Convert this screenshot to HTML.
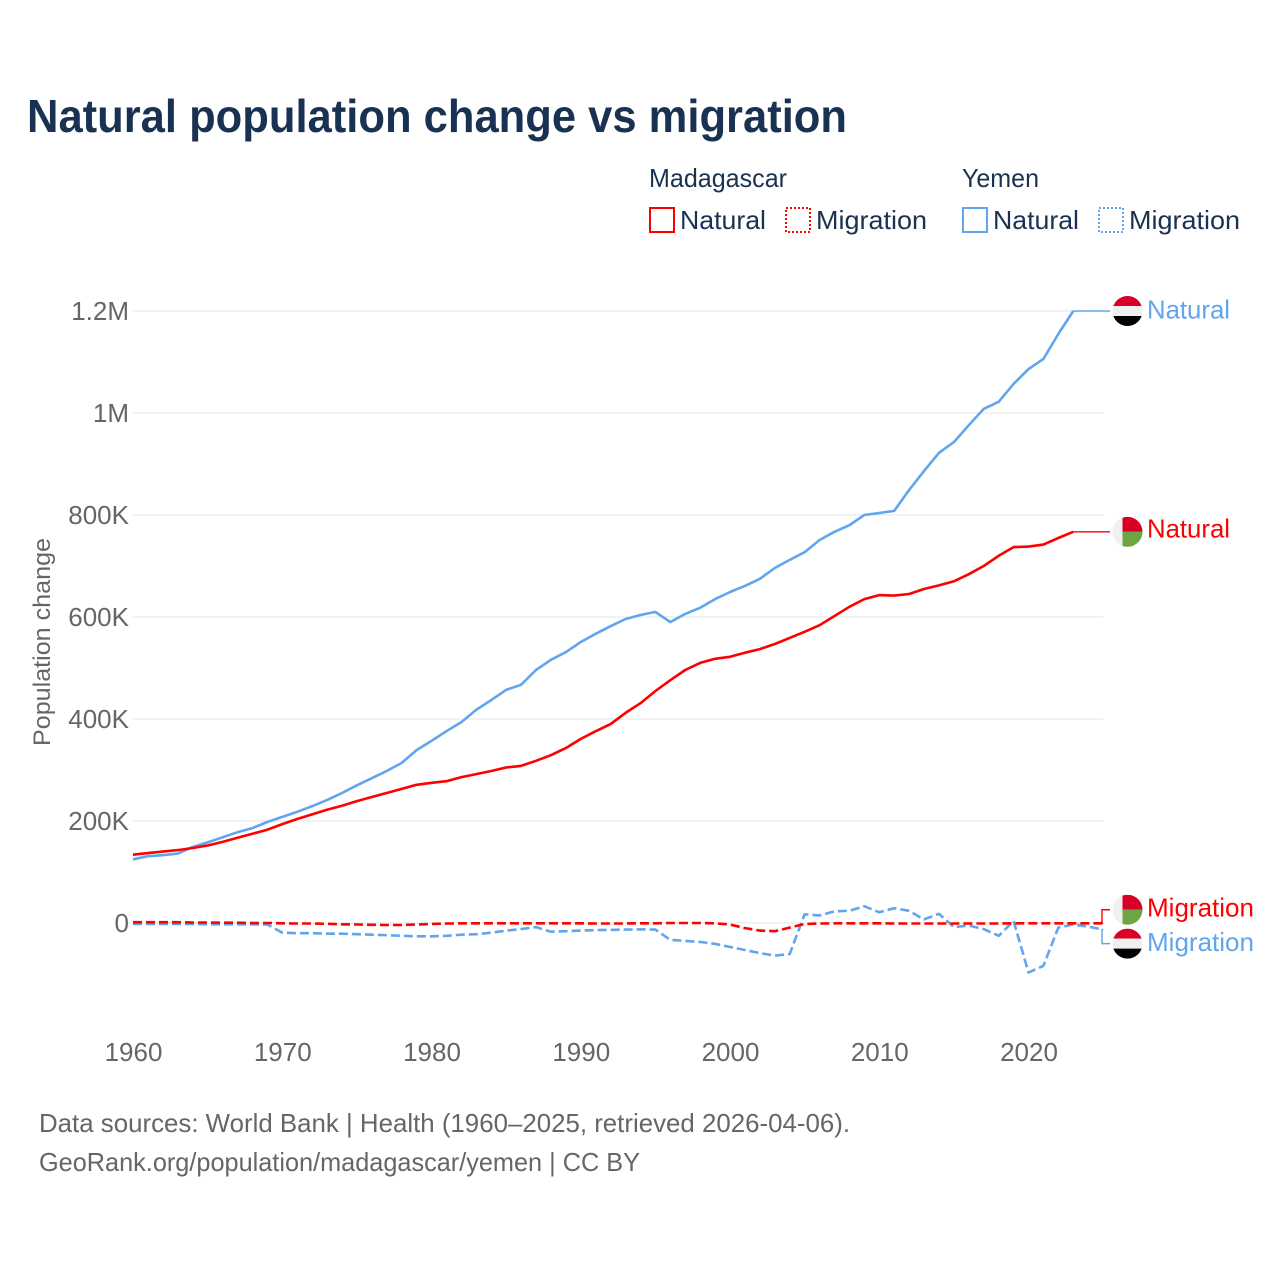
<!DOCTYPE html>
<html lang="en">
<head>
<meta charset="utf-8">
<title>Natural population change vs migration</title>
<style>
html,body{margin:0;padding:0;background:#fff;width:1280px;height:1280px;overflow:hidden}
svg{display:block;font-family:"Liberation Sans",sans-serif}
</style>
</head>
<body>
<svg id="chart" xmlns="http://www.w3.org/2000/svg" width="1280" height="1280" viewBox="0 0 1280 1280">
  <defs>
    <clipPath id="flag-clip"><circle cx="0" cy="0" r="15"></circle></clipPath>
    <g id="flag-yemen" clip-path="url(#flag-clip)">
      <rect x="-15" y="-15" width="30" height="10" fill="#d80027"></rect>
      <rect x="-15" y="-5" width="30" height="10" fill="#f0f0f0"></rect>
      <rect x="-15" y="5" width="30" height="10" fill="#000"></rect>
    </g>
    <g id="flag-madagascar" clip-path="url(#flag-clip)">
      <rect x="-15" y="-15" width="10" height="30" fill="#f0f0f0"></rect>
      <rect x="-5" y="-15" width="20" height="15" fill="#d80027"></rect>
      <rect x="-5" y="0" width="20" height="15" fill="#6da544"></rect>
    </g>
  </defs>

  <text x="27" y="132" font-size="46" font-weight="700" fill="#1a3252" textLength="820" lengthAdjust="spacingAndGlyphs">Natural population change vs migration</text>

  <g font-size="26" fill="#1a3252">
    <text x="649" y="187" textLength="138" lengthAdjust="spacingAndGlyphs">Madagascar</text>
    <rect x="650" y="208" width="24" height="24" fill="none" stroke="#ff0000" stroke-width="2"></rect>
    <text x="680" y="229" textLength="86" lengthAdjust="spacingAndGlyphs">Natural</text>
    <rect x="786" y="208" width="24" height="24" fill="none" stroke="#ff0000" stroke-width="2" stroke-dasharray="2 2"></rect>
    <text x="816" y="229" textLength="111" lengthAdjust="spacingAndGlyphs">Migration</text>
    <text x="962" y="187" textLength="77" lengthAdjust="spacingAndGlyphs">Yemen</text>
    <rect x="963" y="208" width="24" height="24" fill="none" stroke="#60a5ee" stroke-width="2"></rect>
    <text x="993" y="229" textLength="86" lengthAdjust="spacingAndGlyphs">Natural</text>
    <rect x="1099" y="208" width="24" height="24" fill="none" stroke="#60a5ee" stroke-width="2" stroke-dasharray="2 2"></rect>
    <text x="1129" y="229" textLength="111" lengthAdjust="spacingAndGlyphs">Migration</text>
  </g>

  <text transform="translate(50,746) rotate(-90)" font-size="24" fill="#666" textLength="208" lengthAdjust="spacingAndGlyphs">Population change</text>

  <g id="grid"></g>
  <g id="ticks" font-size="26" fill="#666"></g>
  <g id="series" fill="none"></g>
  <g id="ends" font-size="26"></g>

  <text x="39" y="1132" font-size="26" fill="#666" textLength="811" lengthAdjust="spacingAndGlyphs">Data sources: World Bank | Health (1960–2025, retrieved 2026-04-06).</text>
  <text x="39" y="1171" font-size="26" fill="#666" textLength="601" lengthAdjust="spacingAndGlyphs">GeoRank.org/population/madagascar/yemen | CC BY</text>
</svg>
<script>
const firstYear = 1960;
const xTickYears = [1960, 1970, 1980, 1990, 2000, 2010, 2020];
const yTickValues = [0, 200, 400, 600, 800, 1000, 1200];
const yTickLabels = ["0", "200K", "400K", "600K", "800K", "1M", "1.2M"];

// Values in thousands, one per year from 1960.
const yemenNatural = [125,131,133,136,149,158,168,178,186,198,208,218,229,241,255,270,284,298,314,339,357,376,394,418,437,457,467,496,516,531,551,567,582,596,604,610,590,606,618,635,649,661,675,696,712,727,751,767,780,800,804,808,849,886,922,943,976,1008,1022,1057,1086,1106,1155,1200];
const madagascarNatural = [134,137,140,143,147,152,159,167,175,183,194,204,213,222,230,239,247,255,263,271,275,278,286,292,298,305,308,318,329,343,361,376,390,412,431,455,476,496,510,518,522,530,537,547,559,571,584,602,620,635,643,642,645,655,662,670,684,700,720,737,738,742,755,767];
const madagascarMigration = [1.5,1.5,1.5,1.5,1,1,0.5,0.5,0,0,-0.5,-1,-1,-1.5,-2.5,-3,-3.5,-4,-4,-3,-2,-1,-0.5,-0.5,-0.5,-0.5,-0.5,-0.5,-0.5,-0.5,-0.5,-1,-1,-1,-0.5,-0.5,0,0,0,-0.5,-3,-10,-15,-16,-9,-2,-1,-0.5,-0.5,-0.5,-0.5,-1,-1,-1,-1,-1,-1,-1,-1,-0.5,-0.5,-0.5,-0.5,-0.5,-0.5,-0.5];
const yemenMigration = [-2,-2,-2,-2,-2,-2.5,-2.5,-2.5,-2.5,-3,-19,-20,-20,-21,-21,-22,-23,-24,-25,-26,-26,-25,-23,-22,-19,-15,-12,-8,-17,-16,-15,-14,-13.5,-13,-12.5,-13,-33,-35,-37,-41,-47,-53,-59,-64,-61,17,15,23,24,33,21,29,24,7,18,-8,-5,-12,-25,4,-97,-84,-9,-3,-7,-13];

const svgNS = 'http://www.w3.org/2000/svg';
function xScale(year) { return 133 + (year - firstYear) * 14.925; }
function yScale(value) { return 923 - value * 0.51; }
function make(tag, attrs, parent) {
  const el = document.createElementNS(svgNS, tag);
  for (const k in attrs) el.setAttribute(k, attrs[k]);
  parent.appendChild(el);
  return el;
}

const grid = document.getElementById('grid');
const ticks = document.getElementById('ticks');
const series = document.getElementById('series');
const ends = document.getElementById('ends');

yTickValues.forEach(function (v, i) {
  const line = make('line', {x1: 133, x2: 1103, y1: yScale(v), y2: yScale(v), stroke: '#e6e6e6', 'stroke-width': 1}, grid);
  
  
  const t = make('text', {x: 129, y: yScale(v) + 9, 'text-anchor': 'end'}, ticks);
  t.textContent = yTickLabels[i];
  
  
});
xTickYears.forEach(function (year) {
  const t = make('text', {x: xScale(year) + 0.5, y: 1061, 'text-anchor': 'middle'}, ticks);
  t.textContent = year;
  
  
});

function drawLine(values, color, dash, name) {
  const pts = values.map(function (v, i) { return xScale(firstYear + i).toFixed(1) + ',' + yScale(v).toFixed(1); }).join(' ');
  const attrs = {points: pts, stroke: color, 'stroke-width': 2.6, 'stroke-linejoin': 'round'};
  if (dash) attrs['stroke-dasharray'] = dash;
  const line = make('polyline', attrs, series);
  
  
}
drawLine(yemenNatural, '#60a5ee', null, 'line-yemen-natural');
drawLine(yemenMigration, '#60a5ee', '9 4', 'line-yemen-migration');
drawLine(madagascarNatural, '#ff0000', null, 'line-madagascar-natural');
drawLine(madagascarMigration, '#ff0000', '9 4', 'line-madagascar-migration');

function drawEnd(values, labelOffset, textDy, color, flagId, text, width, name) {
  const lastIndex = values.length - 1;
  const xEnd = xScale(firstYear + lastIndex);
  const yEnd = yScale(values[lastIndex]);
  const yLabel = yEnd + labelOffset;
  const elbow = Math.min(1102, xEnd + 24);
  const lead = make('polyline', {points: xEnd + ',' + yEnd + ' ' + elbow + ',' + yEnd + ' ' + elbow + ',' + yLabel + ' 1110,' + yLabel, fill: 'none', stroke: color, 'stroke-width': 1.4}, ends);
  
  
  const flag = make('use', {href: '#' + flagId, x: 1127.5, y: yLabel}, ends);
  
  
  const label = make('text', {x: 1147, y: yLabel + textDy, fill: color, textLength: width, lengthAdjust: 'spacingAndGlyphs'}, ends);
  label.textContent = text;
  
  
}
drawEnd(yemenNatural, 0, 7.5, '#60a5ee', 'flag-yemen', 'Natural', 83, 'end-yemen-natural');
drawEnd(madagascarNatural, 0, 5.5, '#ff0000', 'flag-madagascar', 'Natural', 83, 'end-madagascar-natural');
drawEnd(madagascarMigration, -13.5, 6.5, '#ff0000', 'flag-madagascar', 'Migration', 107, 'end-madagascar-migration');
drawEnd(yemenMigration, 14, 7.5, '#60a5ee', 'flag-yemen', 'Migration', 107, 'end-yemen-migration');
</script>
</body>
</html>
